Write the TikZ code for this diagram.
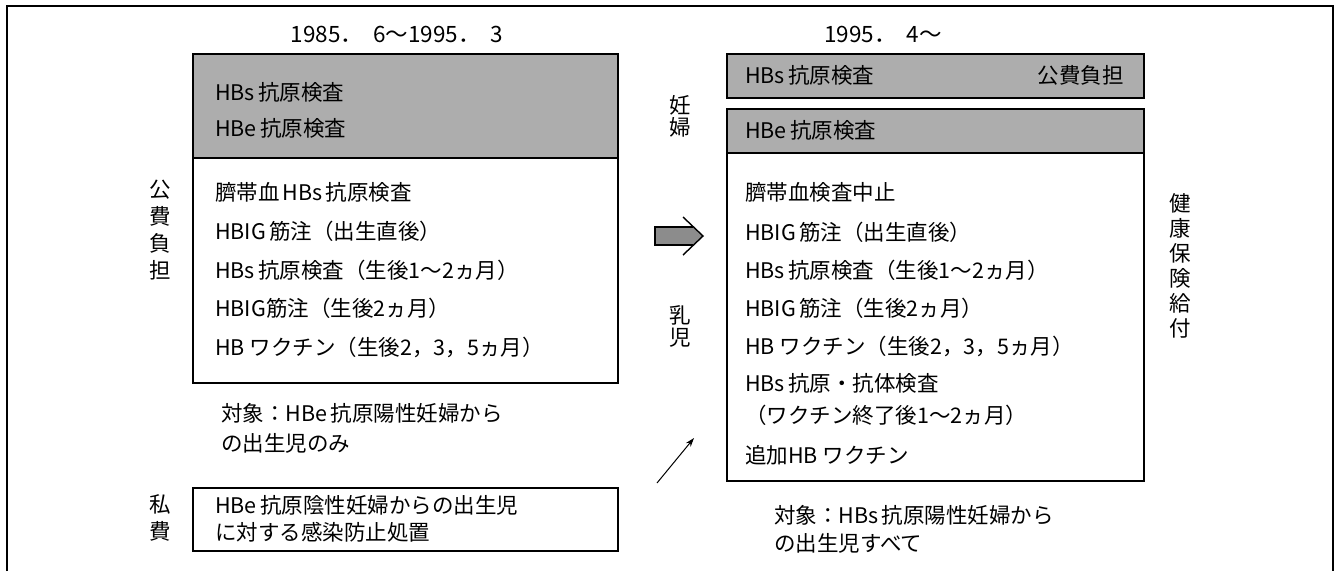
\documentclass[tikz,border=0pt]{standalone}
\usepackage{fontspec}
\newfontfamily\jp{Noto Sans CJK JP}
\usetikzlibrary{arrows.meta}
\newcommand{\gp}{\hspace{0.15em}}
\begin{document}
\begin{tikzpicture}[x=1pt,y=-1pt,
  fr/.style={line width=1.4pt},
  bx/.style={draw, line width=1.6pt, inner sep=0, anchor=north west},
  gbx/.style={bx, fill=black!32},
  tx/.style={anchor=west, inner sep=0, font=\jp\fontsize{21.5}{25}\selectfont},
  tt/.style={anchor=center, inner sep=0, font=\jp\fontsize{22.5}{25}\selectfont},
  vt/.style={align=center, inner sep=0, font=\jp\fontsize{21.5}{#1}\selectfont},
]
\useasboundingbox (0,0) rectangle (1341,571);
% outer frame
\coordinate (f1) at (7,571); \coordinate (f2) at (7,6);
\coordinate (f3) at (1333,6); \coordinate (f4) at (1333,571);
\draw[fr] (f1) -- (f2) -- (f3) -- (f4);
% titles
\node[tt] (t1) at (397,34) {1985．\hspace{0.45em}6～1995．\hspace{0.45em}3};
\node[tt] (t2) at (883,34) {1995．\hspace{0.45em}4～};
% left boxes
\node[gbx, minimum width=425pt, minimum height=104pt] (lg) at (192,53) {};
\node[bx, minimum width=425pt, minimum height=225pt] (lw) at (192,157) {};
\node[bx, minimum width=425pt, minimum height=63pt] (lp) at (192,487) {};
\node[tx] (l1) at (215,92) {HBs\gp 抗原検査};
\node[tx] (l2) at (215,128) {HBe\gp 抗原検査};
\node[tx] (l3) at (215,192) {臍帯血\gp HBs\gp 抗原検査};
\node[tx] (l4) at (215,231) {HBIG\gp 筋注（出生直後）};
\node[tx] (l5) at (215,270) {HBs\gp 抗原検査（生後1～2ヵ月）};
\node[tx] (l6) at (215,308) {HBIG筋注（生後2ヵ月）};
\node[tx] (l7) at (215,347) {HB ワクチン（生後2，3，5ヵ月）};
\node[tx] (l8) at (221,413) {対象：HBe\gp 抗原陽性妊婦から};
\node[tx] (l9) at (221,443) {の出生児のみ};
\node[tx] (p1) at (215,505) {HBe\gp 抗原陰性妊婦からの出生児};
\node[tx] (p2) at (215,532) {に対する感染防止処置};
% vertical labels
\node[vt=27] (kohi) at (160,230) {公\\費\\負\\担};
\node[vt=27] (shihi) at (160,518) {私\\費};
\node[vt=22] (ninpu) at (680,116) {妊\\婦};
\node[vt=22] (nyuji) at (680,326) {乳\\児};
\node[vt=25] (kenpo) at (1180,266) {健\\康\\保\\険\\給\\付};
% right boxes
\node[gbx, minimum width=417pt, minimum height=44pt] (rg1) at (726,53) {};
\node[gbx, minimum width=417pt, minimum height=44pt] (rg2) at (726,108) {};
\node[bx, minimum width=417pt, minimum height=328pt] (rw) at (726,152) {};
\node[tx] (r1) at (745,75) {HBs\gp 抗原検査};
\node[tx, anchor=east] (r1b) at (1124,75) {公費負担};
\node[tx] (r2) at (745,130) {HBe\gp 抗原検査};
\node[tx] (r3) at (745,192) {臍帯血検査中止};
\node[tx] (r4) at (745,232) {HBIG\gp 筋注（出生直後）};
\node[tx] (r5) at (745,270) {HBs\gp 抗原検査（生後1～2ヵ月）};
\node[tx] (r6) at (745,308) {HBIG\gp 筋注（生後2ヵ月）};
\node[tx] (r7) at (745,346) {HB ワクチン（生後2，3，5ヵ月）};
\node[tx] (r8) at (745,383) {HBs\gp 抗原・抗体検査};
\node[tx] (r9) at (745,415) {（ワクチン終了後1～2ヵ月）};
\node[tx] (r10) at (745,455) {追加HB ワクチン};
\node[tx] (r11) at (774,515) {対象：HBs\gp 抗原陽性妊婦から};
\node[tx] (r12) at (774,543) {の出生児すべて};
% big gray arrow
\fill[black!45] (655,227) -- (693,227) -- (703,236) -- (693,245) -- (655,245) -- cycle;
\draw[fr] (693,227) -- (655,227) -- (655,245) -- (693,245);
\draw[fr] (683,217) -- (703,236) -- (683,255);
% thin arrow
\coordinate (ta) at (657,483); \coordinate (tb) at (694,438);
\draw[line width=1pt, -{Stealth[length=9pt,width=6pt]}] (ta) -- (tb);
\end{tikzpicture}
\end{document}
